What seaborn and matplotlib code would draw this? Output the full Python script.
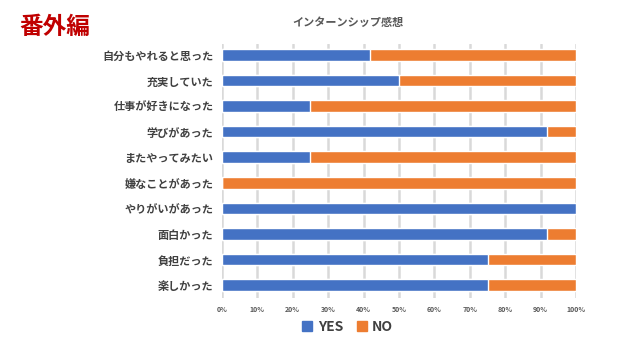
import pandas as pd
import seaborn as sns
import matplotlib.pyplot as plt
from matplotlib.ticker import PercentFormatter
from matplotlib.patches import Patch

items = ["自分もやれると思った", "充実していた", "仕事が好きになった", "学びがあった",
         "またやってみたい", "嫌なことがあった", "やりがいがあった", "面白かった",
         "負担だった", "楽しかった"]
yes_pct = [41.7, 50.0, 25.0, 91.7, 25.0, 0.0, 100.0, 91.7, 75.0, 75.0]
no_pct = [58.3, 50.0, 75.0, 8.3, 75.0, 100.0, 0.0, 8.3, 25.0, 25.0]

df = pd.DataFrame({"item": items, "YES": yes_pct, "NO": no_pct})
df["total"] = df["YES"] + df["NO"]

sns.set_style("white")
plt.rcParams["font.family"] = ["Noto Sans CJK JP", "DejaVu Sans"]

blue = "#4472C4"
orange = "#ED7D31"

fig = plt.figure(figsize=(6.43, 3.61), dpi=100)
ax = fig.add_axes([0.345, 0.175, 0.551, 0.7045])

# stacked: draw total (NO on top of YES) first, then YES
sns.barplot(data=df, x="total", y="item", order=items, color=orange,
            width=0.45, saturation=1, ax=ax, zorder=3)
sns.barplot(data=df, x="YES", y="item", order=items, color=blue,
            width=0.45, saturation=1, ax=ax, zorder=4)

ax.set_xlim(0, 100)
ax.set_xticks(range(0, 101, 10))
ax.xaxis.set_major_formatter(PercentFormatter(decimals=0))
ax.grid(axis="x", color="#d9d9d9", linewidth=1.8, zorder=0)
for s in ax.spines.values():
    s.set_visible(False)
ax.set_xlabel("")
ax.set_ylabel("")
ax.tick_params(axis="x", labelsize=5, colors="#595959", length=0, pad=6)
ax.tick_params(axis="y", labelsize=8, colors="#404040", length=0, pad=6)
for lbl in ax.get_yticklabels():
    lbl.set_fontweight("bold")
for lbl in ax.get_xticklabels():
    lbl.set_fontweight("bold")
ax.set_ylim(9.5, -0.45)

fig.text(0.541, 0.937, "インターンシップ感想", ha="center", va="center",
         fontsize=8, fontweight="bold", color="#595959")
fig.text(0.03, 0.925, "番外編", ha="left", va="center",
         fontsize=17, fontweight="bold", color="#C00000")

handles = [Patch(color=blue, label="YES"), Patch(color=orange, label="NO")]
fig.legend(handles=handles, loc="center", bbox_to_anchor=(0.541, 0.095), ncol=2,
           frameon=False, handlelength=0.7, handleheight=0.7, handletextpad=0.4,
           columnspacing=1.0, prop={"size": 10, "weight": "bold"}, labelcolor="#404040")

fig.savefig("out.png", dpi=100)
